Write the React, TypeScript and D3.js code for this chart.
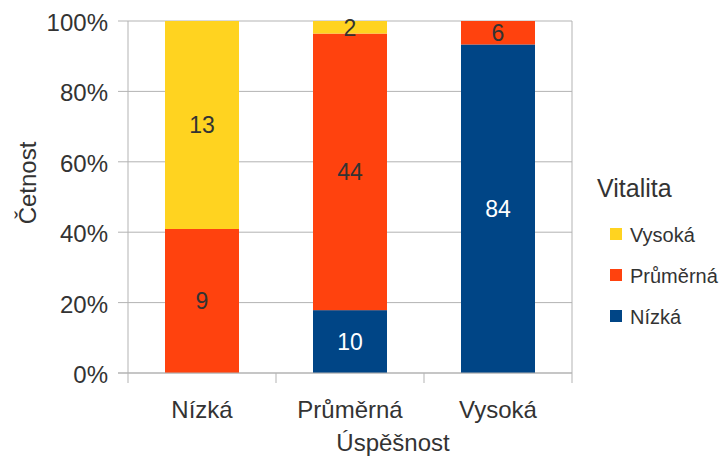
import React from "react";
import * as d3 from "d3";

// Úspěšnost categories (x axis) and Vitalita series counts, stacked to 100 %
const categories = ["Nízká", "Průměrná", "Vysoká"];
const seriesNames = ["Nízká", "Průměrná", "Vysoká"];
const seriesColors = ["#004586", "#ff420e", "#ffd320"];
const vitalitaNizka = [0, 10, 84];
const vitalitaPrumerna = [9, 44, 6];
const vitalitaVysoka = [13, 2, 0];
const yTicks = [0, 0.2, 0.4, 0.6, 0.8, 1];

const W = 723;
const H = 458;
const M = { left: 128, right: 572, top: 21, bottom: 373 };
const FONT = "'Liberation Sans', Arial, sans-serif";
const TEXT = "#333333";
const GRID = "#b3b3b3";

export default function App() {
  const rows = categories.map((c, i) => ({
    cat: c,
    "Nízká": vitalitaNizka[i],
    "Průměrná": vitalitaPrumerna[i],
    "Vysoká": vitalitaVysoka[i],
  }));
  const stacked = d3
    .stack<any>()
    .keys(seriesNames)
    .offset(d3.stackOffsetExpand)(rows);

  const x = d3.scaleBand().domain(categories).range([M.left, M.right]).paddingInner(0.5).paddingOuter(0.25);
  const xOuter = d3.scaleBand().domain(categories).range([M.left, M.right]);
  const y = d3.scaleLinear().domain([0, 1]).range([M.bottom, M.top]);

  const legendItems = [...seriesNames].reverse().map((n) => ({
    name: n,
    color: seriesColors[seriesNames.indexOf(n)],
  }));

  return (
    <svg
      width={W}
      height={H}
      style={{ position: "absolute", left: 0, top: 0, background: "#fff" }}
      fontFamily={FONT}
    >
      {/* gridlines and y ticks */}
      {yTicks.map((t) => (
        <g key={t}>
          <line x1={M.left - 10} x2={M.right} y1={y(t)} y2={y(t)} stroke={GRID} strokeWidth={1} />
          <text x={108} y={y(t)} dy="0.42em" textAnchor="end" fontSize={24} fill={TEXT}>
            {d3.format(".0%")(t)}
          </text>
        </g>
      ))}
      {/* plot frame */}
      <line x1={M.left} x2={M.left} y1={M.top} y2={M.bottom + 10} stroke={GRID} />
      <line x1={M.right} x2={M.right} y1={M.top} y2={M.bottom + 10} stroke={GRID} />
      {categories.map((c, i) =>
        i > 0 ? (
          <line key={c} x1={xOuter(c)!} x2={xOuter(c)!} y1={M.bottom} y2={M.bottom + 10} stroke={GRID} />
        ) : null
      )}

      {/* stacked bars */}
      {stacked.map((layer, si) => (
        <g key={layer.key} fill={seriesColors[si]}>
          {layer.map((d, ci) => {
            const v = rows[ci][layer.key as string] as number;
            if (!v) return null;
            const y0 = y(d[0]);
            const y1 = y(d[1]);
            const cx = x(categories[ci])! + x.bandwidth() / 2;
            return (
              <g key={ci}>
                <rect x={x(categories[ci])!} y={y1} width={x.bandwidth()} height={y0 - y1} />
                <text
                  x={cx}
                  y={(y0 + y1) / 2}
                  dy="0.36em"
                  textAnchor="middle"
                  fontSize={23}
                  fill={si === 0 ? "#ffffff" : TEXT}
                >
                  {v}
                </text>
              </g>
            );
          })}
        </g>
      ))}
      <line x1={M.left - 10} x2={M.right} y1={M.bottom} y2={M.bottom} stroke={GRID} />

      {/* category labels */}
      {categories.map((c) => (
        <text
          key={c}
          x={xOuter(c)! + xOuter.bandwidth() / 2}
          y={418}
          textAnchor="middle"
          fontSize={24}
          fill={TEXT}
        >
          {c}
        </text>
      ))}

      {/* axis titles */}
      <text x={393} y={451} textAnchor="middle" fontSize={24} fill={TEXT}>
        Úspěšnost
      </text>
      <text
        transform={`translate(${36},${183}) rotate(-90)`}
        textAnchor="middle"
        fontSize={24}
        fill={TEXT}
      >
        Četnost
      </text>

      {/* legend */}
      <text x={597} y={197} fontSize={25} fill={TEXT}>
        Vitalita
      </text>
      {legendItems.map((it, i) => (
        <g key={it.name} transform={`translate(610, ${228 + i * 41})`}>
          <rect width={12} height={12} fill={it.color} />
          <text x={20} y={14} fontSize={20} fill={TEXT}>
            {it.name}
          </text>
        </g>
      ))}
    </svg>
  );
}
